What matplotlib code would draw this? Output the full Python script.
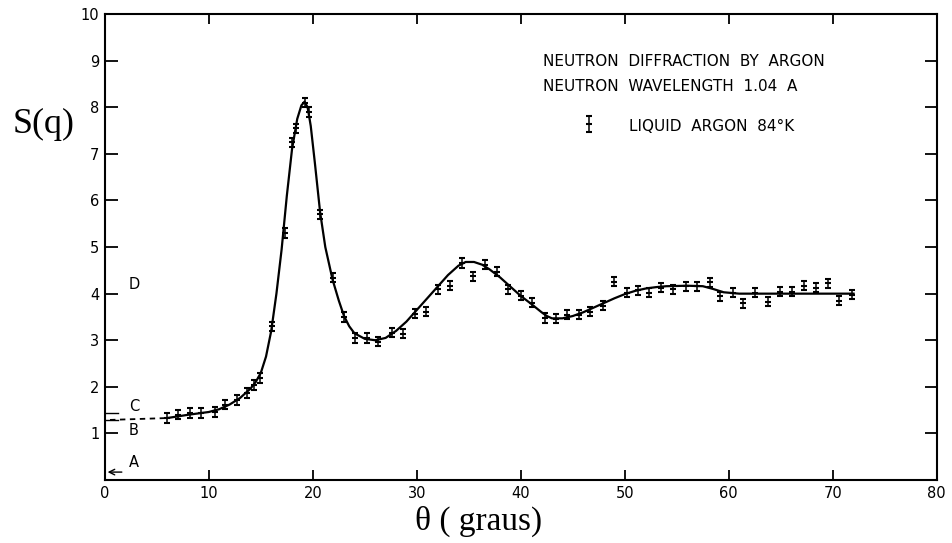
import matplotlib
matplotlib.use("Agg")
import matplotlib.pyplot as plt

# measured points (theta in degrees, S(q))
theta = [6.0, 7.0, 8.2, 9.2, 10.6, 11.6, 12.7, 13.7, 14.3, 14.9,
         16.1, 17.3, 18.0, 18.4, 19.2, 19.6, 20.7, 21.9, 23.0, 24.1,
         25.2, 26.3, 27.6, 28.7, 29.8, 30.9, 32.0, 33.2, 34.3, 35.4,
         36.6, 37.7, 38.8, 40.0, 41.1, 42.3, 43.4, 44.4, 45.6, 46.7,
         47.9, 49.0, 50.2, 51.3, 52.3, 53.5, 54.6, 55.9, 56.9, 58.2,
         59.2, 60.4, 61.4, 62.5, 63.8, 64.9, 66.1, 67.2, 68.4, 69.5,
         70.6, 71.8]
s_meas = [1.33, 1.40, 1.44, 1.44, 1.46, 1.62, 1.72, 1.87, 2.04, 2.19,
          3.30, 5.30, 7.25, 7.55, 8.10, 7.90, 5.70, 4.34, 3.50, 3.05,
          3.05, 2.97, 3.16, 3.14, 3.57, 3.61, 4.09, 4.17, 4.66, 4.37,
          4.62, 4.47, 4.09, 3.96, 3.81, 3.48, 3.46, 3.55, 3.55, 3.61,
          3.74, 4.26, 4.02, 4.07, 4.02, 4.13, 4.09, 4.16, 4.16, 4.24,
          3.94, 4.02, 3.79, 4.02, 3.83, 4.04, 4.04, 4.17, 4.13, 4.22,
          3.85, 3.98]
err = 0.1

# smooth fitted curve
curve_x = [6, 8, 10, 11, 12, 13, 14, 14.5, 15, 15.5, 16, 16.5, 17, 17.5,
           18, 18.5, 18.9, 19.2, 19.5, 19.8, 20.2, 20.7, 21.2, 21.9, 22.5,
           23, 23.5, 24, 25, 26, 27, 28, 29, 30, 31, 32, 33, 34, 34.7, 35.5,
           36.3, 37, 38, 39, 40, 41, 42, 42.5, 43, 44, 45, 46, 47, 48, 49,
           50, 51, 52, 53, 54, 56, 57.5, 58.5, 59.5, 61, 72]
curve_y = [1.33, 1.40, 1.46, 1.52, 1.62, 1.76, 1.96, 2.1, 2.3, 2.65, 3.2,
           4.0, 4.95, 6.1, 7.1, 7.75, 8.04, 8.12, 8.0, 7.6, 6.8, 5.75, 5.0,
           4.3, 3.85, 3.52, 3.3, 3.15, 3.03, 3.0, 3.05, 3.2, 3.4, 3.65, 3.9,
           4.15, 4.4, 4.6, 4.68, 4.68, 4.62, 4.52, 4.35, 4.15, 3.95, 3.78,
           3.6, 3.52, 3.47, 3.47, 3.52, 3.6, 3.7, 3.8, 3.9, 3.99, 4.06,
           4.11, 4.14, 4.16, 4.17, 4.16, 4.1, 4.03, 4.0, 4.0]

# dashed extrapolation to theta = 0
dash_x = [0.5, 6.0]
dash_y = [1.29, 1.33]

# reference levels on the left (A, B, C, D)
ref_labels = ["A", "B", "C", "D"]
ref_levels = [0.17, 1.29, 1.44, 4.0]

x_ticks = [0, 10, 20, 30, 40, 50, 60, 70, 80]
y_ticks = [1, 2, 3, 4, 5, 6, 7, 8, 9, 10]

title_lines = ["NEUTRON  DIFFRACTION  BY  ARGON",
               "NEUTRON  WAVELENGTH  1.04  A"]
series_label = "LIQUID  ARGON  84°K"

fig = plt.figure(figsize=(9.53, 5.43), dpi=100)
ax = fig.add_axes([0.110, 0.116, 0.873, 0.858])

ax.plot(curve_x, curve_y, color="black", lw=1.6, zorder=2)
ax.plot(dash_x, dash_y, color="black", lw=1.3, ls=(0, (3, 2.5)), zorder=2)
eb = ax.errorbar(theta, s_meas, yerr=err, fmt="_", color="black",
                 markersize=5, mew=1.5, elinewidth=1.1, capsize=2.5,
                 capthick=1.1, zorder=3, label=series_label)

ax.set_xlim(0, 80)
ax.set_ylim(0, 10)
ax.set_xticks(x_ticks)
ax.set_yticks(y_ticks)
ax.tick_params(axis="both", direction="in", length=8, width=1.3,
               labelsize=10.5, colors="black", pad=4)
ax.tick_params(axis="x", top=True, length=7)
ax.tick_params(axis="y", right=True, length=9)
for sp in ax.spines.values():
    sp.set_linewidth(1.5)

# reference markers A, B, C, D
ax.annotate("", xy=(0.0, ref_levels[0]), xytext=(1.9, ref_levels[0]),
            arrowprops=dict(arrowstyle="->", color="black", lw=1.0))
for lvl in ref_levels[1:3]:
    ax.plot([0, 1.3], [lvl, lvl], color="black", lw=1.0)
label_y = [0.37, 1.07, 1.57, 4.2]
for lab, ly in zip(ref_labels, label_y):
    ax.text(2.3, ly, lab, fontsize=10.5, va="center", ha="left")

ax.text(42.1, 8.99, title_lines[0], fontsize=11, va="center", ha="left")
ax.text(42.1, 8.45, title_lines[1], fontsize=11, va="center", ha="left")
leg = ax.legend(handles=[eb], labels=[series_label], loc="center left",
                bbox_to_anchor=((582 - 105) / 832, 0.759), frameon=False,
                fontsize=11, handlelength=0.9, handleheight=1.6,
                handletextpad=2.2, borderaxespad=0, borderpad=0)

fig.text(44 / 953, 1 - 124 / 543, "S(q)", fontsize=26,
         family="Liberation Serif", ha="center", va="center")
fig.text(479 / 953, 1 - 521 / 543, "θ ( graus)", fontsize=24,
         family="Liberation Serif", ha="center", va="center")

fig.savefig("out.png", dpi=100)
